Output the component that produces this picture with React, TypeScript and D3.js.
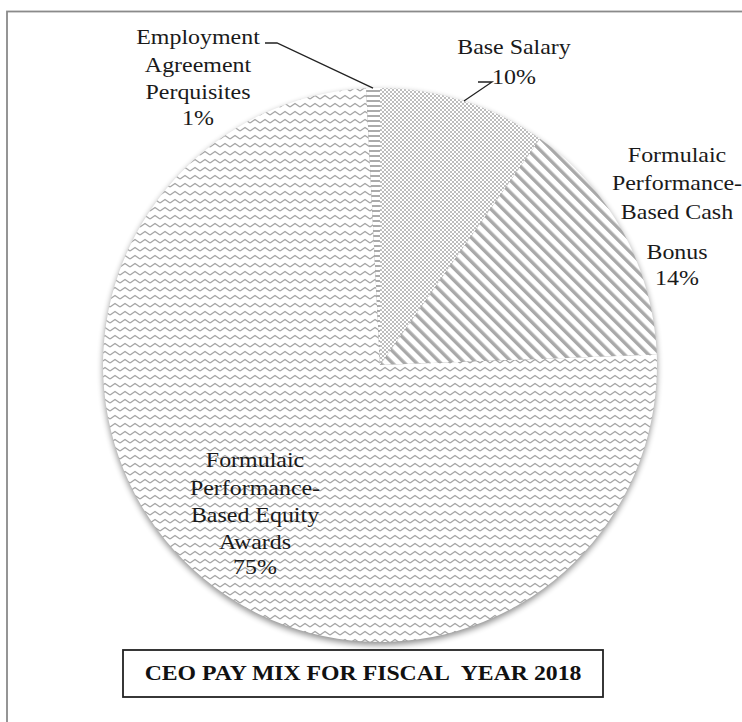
import React from "react";
import * as d3 from "d3";

const categories = [
  "Base Salary",
  "Formulaic Performance-Based Cash Bonus",
  "Formulaic Performance-Based Equity Awards",
  "Employment Agreement Perquisites",
];
const values = [9.8, 14.6, 74.8, 0.8];
const labelLines = [
  ["Base Salary", "10%"],
  ["Formulaic", "Performance-", "Based Cash", "", "Bonus", "14%"],
  ["Formulaic", "Performance-", "Based Equity", "Awards", "75%"],
  ["Employment", "Agreement", "Perquisites", "1%"],
];
const title = "CEO PAY MIX FOR FISCAL\u00a0 YEAR 2018";

const W = 742;
const H = 722;
const cx = 380;
const cy = 365;
const R = 277;

const fills = ["url(#pDots)", "url(#pDiag)", "url(#pZig)", "url(#pHoriz)"];

// label layout: center x, first baseline y, line step
const labelLayout = [
  { x: 514, y: 54, step: 30, lineSteps: [0, 30] },
  { x: 677, y: 162, step: 28, lineSteps: [0, 28, 57, 57, 97, 123] },
  { x: 255, y: 467, step: 27, lineSteps: [0, 28, 55, 82, 107] },
  { x: 198, y: 44, step: 27, lineSteps: [0, 28, 55, 81] },
];

export default function App() {
  const pie = d3
    .pie<number>()
    .sort(null)
    .value((d) => d)
    .startAngle(0)
    .endAngle(2 * Math.PI);
  const arcs = pie(values);
  const arc = d3.arc<d3.PieArcDatum<number>>().innerRadius(0).outerRadius(R);

  const edgePoint = (a: d3.PieArcDatum<number>, r: number) => {
    const m = (a.startAngle + a.endAngle) / 2;
    return [cx + r * Math.sin(m), cy - r * Math.cos(m)];
  };

  const basePt = edgePoint(arcs[0], R);
  const perkPt = edgePoint(arcs[3], R);

  const line = d3.line();

  return (
    <svg
      width={W}
      height={H}
      style={{ position: "absolute", left: 0, top: 0, background: "#fff" }}
      fontFamily="'Liberation Serif', 'Times New Roman', serif"
    >
      <defs>
        <pattern id="pDots" width={4} height={4} patternUnits="userSpaceOnUse">
          <rect width={4} height={4} fill="#ffffff" />
          <rect x={0} y={0} width={2} height={2} fill="#bdbdbd" />
          <rect x={2} y={2} width={2} height={2} fill="#bdbdbd" />
        </pattern>
        <pattern
          id="pDiag"
          width={8.5}
          height={8.5}
          patternUnits="userSpaceOnUse"
          patternTransform="rotate(-45)"
        >
          <rect width={8.5} height={8.5} fill="#ffffff" />
          <rect x={0} y={0} width={3.4} height={8.5} fill="#a9a9a9" />
        </pattern>
        <pattern id="pZig" width={10} height={8} patternUnits="userSpaceOnUse">
          <rect width={10} height={8} fill="#ffffff" />
          <path d="M0,6 L5,2.5 L10,6" fill="none" stroke="#a4a4a4" strokeWidth={1.3} />
        </pattern>
        <pattern id="pHoriz" width={5} height={5} patternUnits="userSpaceOnUse">
          <rect width={5} height={5} fill="#ffffff" />
          <rect x={0} y={0} width={5} height={2} fill="#ababab" />
        </pattern>
        <filter id="shadow" x="-20%" y="-20%" width="140%" height="140%">
          <feGaussianBlur in="SourceAlpha" stdDeviation={3} />
          <feOffset dx={0} dy={3} result="b" />
          <feComponentTransfer>
            <feFuncA type="linear" slope={0.45} />
          </feComponentTransfer>
        </filter>
      </defs>

      <rect x={7} y={11.5} width={900} height={900} fill="#fff" stroke="#8a8a8a" strokeWidth={1.8} />

      <circle cx={cx} cy={cy} r={R} fill="#000" filter="url(#shadow)" />
      <g transform={`translate(${cx},${cy})`}>
        {arcs.map((a, i) => (
          <path key={categories[i]} d={arc(a) || ""} fill={fills[i]} />
        ))}
      </g>

      {/* leader lines */}
      <path
        d={line([
          [478, 82],
          [492, 82],
          [basePt[0], basePt[1]] as [number, number],
        ].map((p, k) => (k === 2 ? p : p)) as [number, number][]) || ""}
        fill="none"
        stroke="#222"
        strokeWidth={1.3}
      />
      <path
        d={line([
          [265, 43],
          [277, 43],
          [perkPt[0], perkPt[1]] as [number, number],
        ] as [number, number][]) || ""}
        fill="none"
        stroke="#222"
        strokeWidth={1.3}
      />

      {labelLines.map((lines, i) => {
        const L = labelLayout[i];
        return (
          <g key={categories[i]}>
            {lines.map((t, k) =>
              t ? (
                <text
                  key={k}
                  transform={`translate(${L.x},${L.y + L.lineSteps[k]}) scale(1.14,1)`}
                  textAnchor="middle"
                  fontSize={21}
                  fill="#1a1a1a"
                >
                  {t}
                </text>
              ) : null
            )}
          </g>
        );
      })}

      <rect x={123} y={650} width={480} height={47} fill="#fff" stroke="#222" strokeWidth={1.8} />
      <text
        transform={`translate(${363},${680}) scale(1.08,1)`}
        textAnchor="middle"
        fontSize={22}
        fontWeight="bold"
        fill="#111"
      >
        {title}
      </text>
    </svg>
  );
}
